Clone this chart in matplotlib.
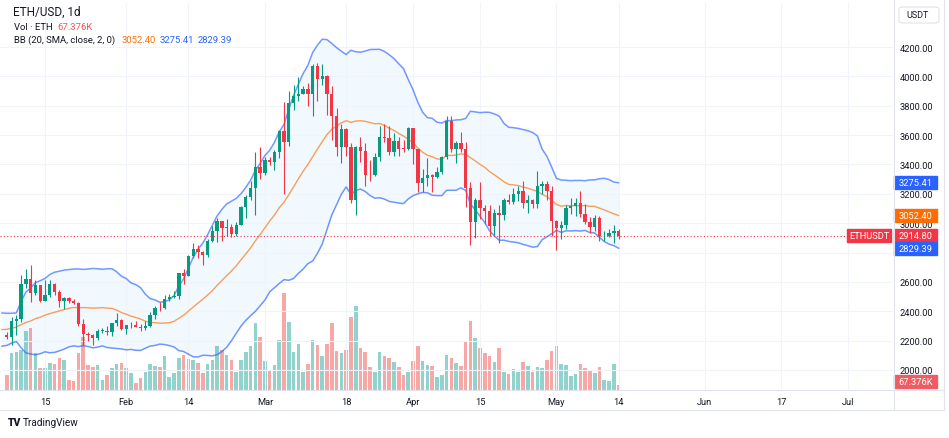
import numpy as np
import pandas as pd
import matplotlib
matplotlib.use('Agg')
import matplotlib.pyplot as plt
from matplotlib.lines import Line2D
from matplotlib.patches import Rectangle, FancyBboxPatch

plt.rcParams['font.family'] = ['Roboto', 'DejaVu Sans']

# closes Dec 18 - Jan 6, only used to start the 20 day bands
warmup_close = [2196, 2177, 2201, 2239, 2326, 2315, 2266, 2272, 2231, 2379,
                2346, 2298, 2292, 2281, 2352, 2355, 2209, 2268, 2268, 2240]

dates = pd.date_range('2024-01-07', '2024-05-14', freq='D')

close = [2222, 2331, 2344, 2584, 2618, 2523, 2577, 2472, 2511, 2587, 2528, 2467, 2490,
         2469, 2455, 2312, 2242, 2236, 2218, 2267, 2268, 2256, 2317, 2343, 2282,
         2304, 2309, 2296, 2289, 2299, 2372, 2425, 2420, 2486, 2500, 2507, 2659, 2641,
         2777, 2823, 2803, 2785, 2880, 2944, 3013, 2966, 2972, 2923, 2990, 3111, 3179,
         3243, 3383, 3340,
         3432, 3420, 3488, 3628, 3553, 3818, 3868, 3883, 3913, 3878, 4068, 3985, 4005,
         3881, 3731, 3521, 3643, 3519, 3157, 3516, 3491, 3330, 3326, 3454, 3589, 3583,
         3488, 3560, 3508, 3506, 3645,
         3502, 3277, 3311, 3329, 3317, 3352, 3454, 3695, 3506, 3543, 3505, 3242, 3010,
         3156, 3102, 3085, 2984, 3066, 3054, 3155, 3147, 3200, 3218, 3139, 3156, 3131,
         3255, 3264, 3216, 3014,
         2969, 2989, 3103, 3118, 3136, 3064, 3006, 2974, 3037, 2911, 2912, 2930, 2950,
         2914.8]

high = [2256, 2359, 2373, 2644, 2690, 2717, 2615, 2580, 2613, 2614, 2595, 2545, 2500,
        2494, 2484, 2463, 2350, 2262, 2243, 2282, 2283, 2300, 2320, 2390, 2349,
        2308, 2327, 2332, 2313, 2336, 2393, 2434, 2460, 2514, 2518, 2538, 2663, 2687,
        2785, 2865, 2850, 2813, 2895, 2983, 3033, 3018, 3030, 2992, 3005, 3115, 3190,
        3288, 3487, 3522,
        3450, 3451, 3500, 3637, 3822, 3900, 3939, 3995, 3933, 3957, 4087, 4093, 4084,
        4010, 3935, 3782, 3675, 3648, 3548, 3525, 3588, 3545, 3433, 3480, 3665, 3677,
        3664, 3611, 3585, 3568, 3655,
        3647, 3508, 3367, 3444, 3337, 3380, 3455, 3730, 3727, 3561, 3618, 3552, 3283,
        3174, 3279, 3125, 3123, 3095, 3127, 3170, 3199, 3240, 3256, 3290, 3193, 3167,
        3355, 3289, 3286, 3250,
        3021, 3015, 3127, 3170, 3170, 3221, 3130, 3040, 3058, 3050, 2945, 2958, 2990,
        2958]

low = [2210, 2168, 2235, 2330, 2560, 2460, 2512, 2466, 2470, 2500, 2510, 2427, 2416,
       2458, 2450, 2300, 2168, 2196, 2170, 2206, 2252, 2240, 2233, 2300, 2270,
       2242, 2283, 2290, 2265, 2270, 2295, 2350, 2404, 2415, 2470, 2490, 2486, 2583,
       2638, 2760, 2760, 2718, 2771, 2869, 2871, 2880, 2912, 2904, 2910, 2985, 3035,
       3160, 3055, 3300,
       3330, 3395, 3364, 3447, 3200, 3525, 3768, 3835, 3878, 3796, 3727, 3835, 3940,
       3740, 3565, 3460, 3412, 3455, 3140, 3056, 3416, 3253, 3290, 3320, 3422, 3552,
       3465, 3460, 3455, 3486, 3500,
       3406, 3210, 3210, 3256, 3210, 3306, 3337, 3440, 3484, 3410, 3484, 3112, 2852,
       2900, 3026, 2997, 2915, 2920, 2865, 3023, 3132, 3130, 3150, 3103, 3070, 3103,
       3100, 3200, 3155, 2910,
       2815, 2892, 2957, 3060, 3050, 3044, 2996, 2935, 2950, 2880, 2880, 2905, 2863,
       2893]

# thousands of ETH
volume = [200, 500, 515, 540, 800, 835, 500, 300, 300, 365, 350, 430, 405,
          135, 120, 500, 715, 340, 310, 340, 135, 200, 300, 350, 365,
          300, 230, 95, 160, 245, 350, 325, 310, 460, 175, 230, 430, 470,
          420, 405, 365, 230, 350, 405, 595, 540, 470, 405, 245, 405, 515,
          595, 905, 715,
          390, 270, 340, 675, 1310, 920, 515, 620, 245, 350, 675, 610, 460,
          620, 905, 525, 500, 540, 985, 1135, 565, 515, 310, 245, 515, 460,
          430, 380, 310, 200, 245,
          390, 595, 390, 340, 325, 175, 200, 470, 430, 365, 325, 650, 930,
          700, 565, 500, 460, 380, 565, 245, 215, 285, 245, 380, 325, 245,
          310, 300, 405, 525,
          595, 350, 340, 190, 215, 350, 300, 255, 230, 310, 135, 120, 350,
          67.376]

tick_dates = pd.to_datetime(['2024-01-15', '2024-02-01', '2024-02-14', '2024-03-01',
                             '2024-03-18', '2024-04-01', '2024-04-15', '2024-05-01',
                             '2024-05-14', '2024-06-01', '2024-06-17', '2024-07-01'])
tick_labels = ['15', 'Feb', '14', 'Mar', '18', 'Apr', '15', 'May', '14', 'Jun', '17', 'Jul']
price_ticks = np.arange(2000, 4201, 200)

last_price = 2914.80
bb_text = ['3052.40', '3275.41', '2829.39']
vol_text = '67.376K'

open_ = [warmup_close[-1]] + close[:-1]
o, c, h, l = map(np.array, (open_, close, high, low))
up = c >= o

all_close = pd.Series(warmup_close + close, dtype=float)
basis = all_close.rolling(20).mean().iloc[19:].values
dev = all_close.rolling(20).std(ddof=0).iloc[19:].values
upper = basis + 2 * dev
lower = basis - 2 * dev
bb_dates = pd.date_range('2024-01-06', '2024-05-14', freq='D')

W, H = 949, 439
fig = plt.figure(figsize=(W / 100, H / 100), dpi=100)
rect = [0, (H - 391) / H, 893 / W, 387 / H]
vax = fig.add_axes(rect)
ax = fig.add_axes(rect, sharex=vax)
ax.patch.set_visible(False)
vax.set_axis_off()

green, red = '#089981', '#F23645'
pp = 2200 / 323  # price per pixel

vax.bar(dates, volume, width=0.75, color=np.where(up, '#26a69a', '#ef5350'), alpha=0.5)
vax.set_ylim(0, 387 * 13.5)

ax.fill_between(bb_dates, lower, upper, color='#2196F3', alpha=0.06, lw=0, zorder=1)
ax.plot(bb_dates, upper, color='#2962FF', lw=1.1, alpha=0.65, zorder=2)
ax.plot(bb_dates, lower, color='#2962FF', lw=1.1, alpha=0.65, zorder=2)
ax.plot(bb_dates, basis, color='#FF6D00', lw=1.0, alpha=0.65, zorder=2)
ax.axhline(last_price, color=red, lw=0.8, ls=(0, (1, 2)), zorder=2)

cols = np.where(up, green, red)
ax.vlines(dates, l, h, colors=cols, lw=0.8, zorder=3)
ax.bar(dates, np.maximum(np.abs(c - o), 4), bottom=np.minimum(o, c), width=0.7,
       color=cols, zorder=4)

ax.set_xlim(pd.Timestamp('2024-01-05 14:05'), pd.Timestamp('2024-07-10 09:35'))
ax.set_ylim(2000 - 20 * pp, 4200 + 44 * pp)
ax.set_xticks(tick_dates)
ax.set_xticklabels(tick_labels)
ax.yaxis.tick_right()
ax.set_yticks(price_ticks)
# the 2800 label sits under the lower band tag
ax.set_yticklabels(['' if v == 2800 else f'{v:.2f}' for v in price_ticks])
ax.tick_params(axis='both', length=0, labelsize=6.7, labelcolor='#131722')
ax.tick_params(axis='x', pad=5)
ax.tick_params(axis='y', pad=5)
ax.grid(True, color='#f0f3fa', lw=0.8)
for s in ax.spines.values():
    s.set_visible(False)


def price_tag(y, text, color, x0=1.001, w=0.048):
    tr = ax.get_yaxis_transform()
    ax.add_patch(Rectangle((x0, y - 6.5 * pp), w, 13 * pp, transform=tr, color=color,
                           clip_on=False, zorder=10))
    ax.text(x0 + w / 2, y, text, transform=tr, ha='center', va='center', color='white',
            fontsize=6.7, clip_on=False, zorder=11)


price_tag(float(bb_text[1]), bb_text[1], '#2962FF')
price_tag(float(bb_text[0]), bb_text[0], '#FF6D00')
price_tag(last_price, f'{last_price:.2f}', red)
price_tag(float(bb_text[2]), bb_text[2], '#2962FF')
price_tag(last_price, 'ETHUSDT', red, x0=847 / 893, w=44 / 893)

vax.add_patch(Rectangle((1.001, 0.004), 0.048, 13 / 387, transform=vax.transAxes,
                        color='#ef5d63', clip_on=False, zorder=10))
vax.text(1.025, 0.004 + 6.5 / 387, vol_text, transform=vax.transAxes, ha='center',
         va='center', color='white', fontsize=6.7, clip_on=False, zorder=11)


def ftext(x, y, s, **kw):
    kw.setdefault('fontsize', 6.8)
    kw.setdefault('color', '#131722')
    fig.text(x / W, 1 - y / H, s, va='center', ha='left', **kw)


ftext(13, 12.5, 'ETH/USD, 1d', fontsize=8.5)
ftext(14, 27, 'Vol · ETH')
ftext(57, 27, vol_text, color='#F7525F')
ftext(14, 40.5, 'BB (20, SMA, close, 2, 0)')
ftext(122, 40.5, bb_text[0], color='#FF6D00')
ftext(160, 40.5, bb_text[1], color='#2962FF')
ftext(198, 40.5, bb_text[2], color='#2962FF')

fig.add_artist(FancyBboxPatch((899 / W, 1 - 24 / H), 40 / W, 16 / H,
                              boxstyle='round,pad=0,rounding_size=0.005',
                              transform=fig.transFigure, fc='white', ec='#e0e3eb', lw=0.8))
ftext(906, 16, 'USDT', fontsize=6.5)

for xs, ys in [((0, 944), (391, 391)), ((0, 944), (411, 411)),
               ((893.5, 893.5), (0, 411)), ((944, 944), (0, 411))]:
    fig.add_artist(Line2D([x / W for x in xs], [1 - y / H for y in ys],
                          transform=fig.transFigure, color='#e0e3eb', lw=0.8))

ftext(8, 423, 'TV', fontsize=7.5, fontweight='black')
ftext(23, 423, 'TradingView', fontsize=7.2)

fig.savefig('out.png', dpi=100)
